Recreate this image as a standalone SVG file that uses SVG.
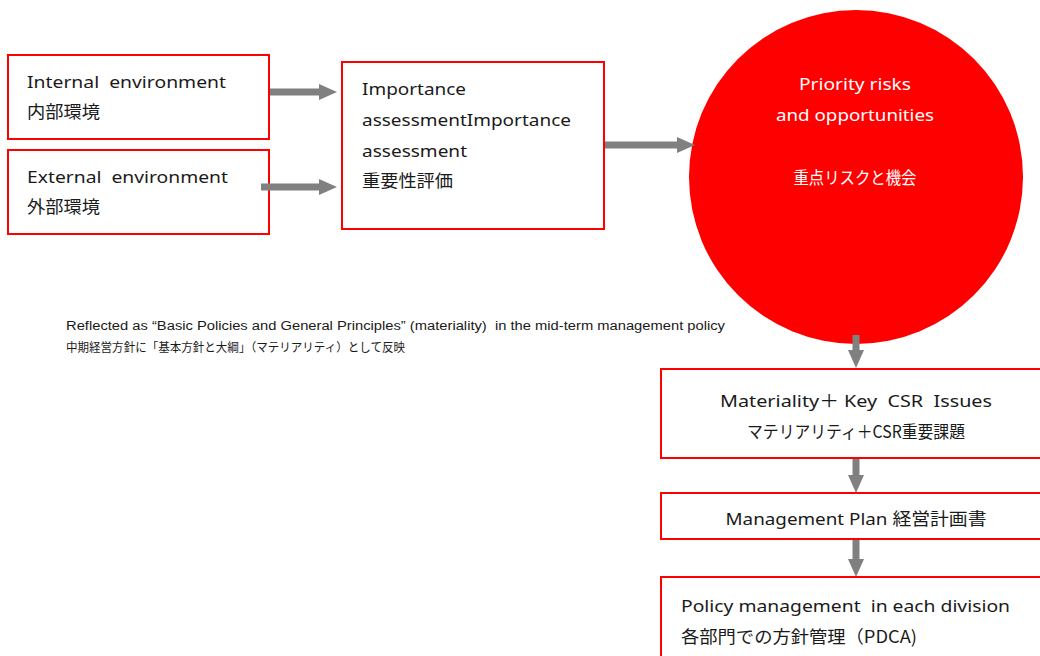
<svg xmlns="http://www.w3.org/2000/svg" width="1040" height="656" viewBox="0 0 1040 656">
<defs>
<style>
.box{fill:#fff;stroke:#ff0000;stroke-width:2}
.t{font-family:"Noto Sans","Noto Sans CJK JP",sans-serif;font-size:17px;fill:#1a1a1a;white-space:pre}
.j{font-family:"Noto Sans CJK JP",sans-serif;font-size:17.5px;fill:#1a1a1a}
.w{font-family:"Noto Sans","Noto Sans CJK JP",sans-serif;font-size:17px;fill:#fff}
.s{font-family:"Liberation Sans","Noto Sans CJK JP",sans-serif;font-size:12px;fill:#1a1a1a;white-space:pre}
.shaft{stroke:#808080;stroke-width:7;fill:none}
.head{fill:#808080}
</style>
</defs>
<rect width="1040" height="656" fill="#fff"/>
<g id="internal">
<rect class="box" x="8" y="55" width="261" height="84"/>
<text class="t" x="27" y="88" textLength="199" lengthAdjust="spacingAndGlyphs">Internal  environment</text>
<text class="j" x="27" y="118" textLength="73" lengthAdjust="spacingAndGlyphs">内部環境</text>
</g>
<g id="external">
<rect class="box" x="8" y="150" width="261" height="84"/>
<text class="t" x="27" y="183" textLength="201" lengthAdjust="spacingAndGlyphs">External  environment</text>
<text class="j" x="27" y="213" textLength="73" lengthAdjust="spacingAndGlyphs">外部環境</text>
</g>
<g id="importance">
<rect class="box" x="342" y="62" width="262" height="167"/>
<text class="t" x="362" y="95" textLength="104" lengthAdjust="spacingAndGlyphs">Importance</text>
<text class="t" x="362" y="126" textLength="209" lengthAdjust="spacingAndGlyphs">assessmentImportance</text>
<text class="t" x="362" y="157" textLength="105" lengthAdjust="spacingAndGlyphs">assessment</text>
<text class="j" x="362" y="187" textLength="91" lengthAdjust="spacingAndGlyphs">重要性評価</text>
</g>
<g id="priority">
<circle cx="856" cy="177" r="167" fill="#ff0000"/>
<text class="w" x="855" y="90" text-anchor="middle" textLength="112" lengthAdjust="spacingAndGlyphs">Priority risks</text>
<text class="w" x="855" y="121" text-anchor="middle" textLength="158" lengthAdjust="spacingAndGlyphs">and opportunities</text>
<text class="w" x="855" y="184" text-anchor="middle" textLength="123" lengthAdjust="spacingAndGlyphs">重点リスクと機会</text>
</g>
<g id="note">
<text class="s" x="66" y="330" textLength="659" lengthAdjust="spacingAndGlyphs">Reflected as “Basic Policies and General Principles” (materiality)  in the mid-term management policy</text>
<text class="s" x="66" y="352" textLength="339" lengthAdjust="spacingAndGlyphs">中期経営方針に「基本方針と大綱」（マテリアリティ）として反映</text>
</g>
<g id="materiality">
<rect class="box" x="661" y="369" width="390" height="89"/>
<text class="t" x="856" y="407" text-anchor="middle" textLength="272" lengthAdjust="spacingAndGlyphs">Materiality＋ Key  CSR  Issues</text>
<text class="j" x="856" y="438" text-anchor="middle" textLength="218" lengthAdjust="spacingAndGlyphs">マテリアリティ＋CSR重要課題</text>
</g>
<g id="plan">
<rect class="box" x="661" y="493" width="390" height="46"/>
<text class="t" x="856" y="525" text-anchor="middle" textLength="261" lengthAdjust="spacingAndGlyphs">Management Plan 経営計画書</text>
</g>
<g id="policy">
<rect class="box" x="661" y="577" width="390" height="90"/>
<text class="t" x="681" y="612" textLength="329" lengthAdjust="spacingAndGlyphs">Policy management  in each division</text>
<text class="j" x="681" y="643" textLength="236" lengthAdjust="spacingAndGlyphs">各部門での方針管理（PDCA)</text>
</g>
<g id="connectors">
<line class="shaft" x1="270" y1="92" x2="321" y2="92"/><polygon class="head" points="319,84 337,92 319,100"/>
<line class="shaft" x1="261" y1="187" x2="321" y2="187"/><polygon class="head" points="319,179 337,187 319,195"/>
<line class="shaft" x1="605" y1="145" x2="680" y2="145"/><polygon class="head" points="677,137 695,145 677,153"/>
<line class="shaft" x1="856" y1="335" x2="856" y2="352"/><polygon class="head" points="848,350 856,368 864,350"/>
<line class="shaft" x1="856" y1="459" x2="856" y2="477"/><polygon class="head" points="848,475 856,493 864,475"/>
<line class="shaft" x1="856" y1="540" x2="856" y2="561"/><polygon class="head" points="848,559 856,577 864,559"/>
</g>
</svg>
